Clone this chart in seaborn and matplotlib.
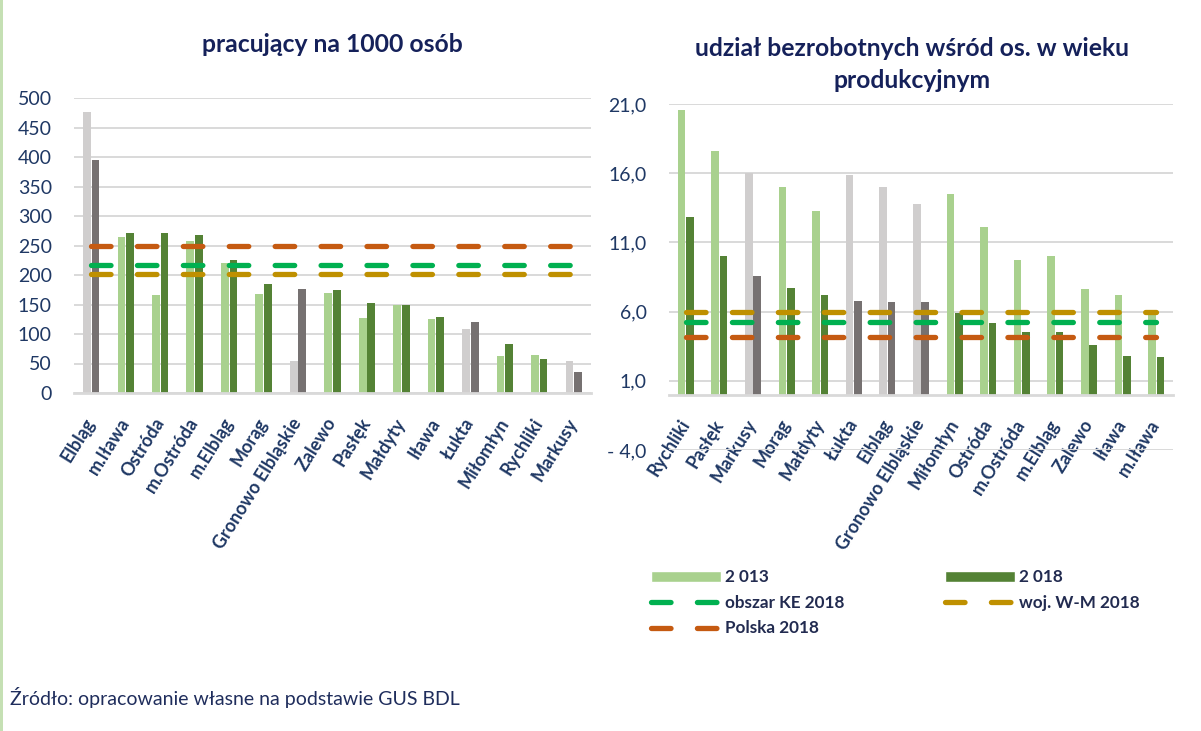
import numpy as np
import pandas as pd
import seaborn as sns
import matplotlib.pyplot as plt
from matplotlib.lines import Line2D
from matplotlib.patches import Patch, Rectangle
from matplotlib.ticker import FuncFormatter, MultipleLocator

# --- dane: pracujacy na 1000 osob ---
gminy_prac = ["Elbląg", "m.Iława", "Ostróda", "m.Ostróda", "m.Elbląg", "Morąg",
              "Gronowo Elbląskie", "Zalewo", "Pasłęk", "Małdyty", "Iława", "Łukta",
              "Miłomłyn", "Rychliki", "Markusy"]
prac_2013 = [477, 264, 166, 257, 220, 168, 55, 170, 127, 149, 125, 109, 62, 64, 55]
prac_2018 = [395, 272, 272, 267, 225, 185, 177, 175, 153, 150, 129, 120, 83, 57, 36]
prac_polska = 250
prac_obszar = 217
prac_woj = 202

# --- dane: udzial bezrobotnych w wieku produkcyjnym ---
gminy_bezr = ["Rychliki", "Pasłęk", "Markusy", "Morąg", "Małdyty", "Łukta", "Elbląg",
              "Gronowo Elbląskie", "Miłomłyn", "Ostróda", "m.Ostróda", "m.Elbląg",
              "Zalewo", "Iława", "m.Iława"]
bezr_2013 = [20.6, 17.6, 16.0, 15.0, 13.3, 15.9, 15.0, 13.8, 14.5, 12.1, 9.7, 10.0, 7.6, 7.2, 5.9]
bezr_2018 = [12.8, 10.0, 8.6, 7.7, 7.2, 6.8, 6.7, 6.7, 5.9, 5.2, 4.5, 4.5, 3.6, 2.8, 2.7]
bezr_woj = 6.0
bezr_obszar = 5.25
bezr_polska = 4.15

# gminy spoza obszaru - slupki szare
szare = ["Elbląg", "Gronowo Elbląskie", "Łukta", "Markusy"]

lata = ["2 013", "2 018"]

# kolory
JASNY = "#A9D18E"
CIEMNY = "#548235"
JASNY_SZARY = "#D0CECE"
CIEMNY_SZARY = "#767171"
C_POLSKA = "#C55A11"
C_OBSZAR = "#00B050"
C_WOJ = "#BF9000"
NAVY = "#1F3864"
SIATKA = "#D9D9D9"

sns.set_theme(style="white")
plt.rcParams["font.family"] = ["Lato", "DejaVu Sans"]

LW = 3.8
DASH = (3.7, 5.0)


def panel(ax, gminy, v2013, v2018, linie):
    n = len(gminy)
    df = pd.DataFrame({
        "gmina": gminy * 2,
        "rok": [lata[0]] * n + [lata[1]] * n,
        "wartosc": v2013 + v2018,
    })
    sns.barplot(data=df, x="gmina", y="wartosc", hue="rok", order=gminy,
                palette=[JASNY, CIEMNY], width=0.5, gap=0.1, errorbar=None,
                saturation=1, legend=False, ax=ax)
    for cont, kol in zip(ax.containers, [JASNY_SZARY, CIEMNY_SZARY]):
        for bar, g in zip(cont, gminy):
            bar.set_linewidth(0)
            if g in szare:
                bar.set_facecolor(kol)
    for val, kol in linie:
        ax.plot([0, n - 1], [val, val], color=kol, lw=LW, dashes=DASH,
                dash_capstyle="round", zorder=5)

    ax.set_xlim(-0.5, n - 0.5)
    ax.set_xlabel("")
    ax.set_ylabel("")
    ax.yaxis.grid(True, color=SIATKA, lw=1.4)
    ax.set_axisbelow(True)
    for s in ["top", "right", "left"]:
        ax.spines[s].set_visible(False)
    ax.spines["bottom"].set_color(SIATKA)
    ax.spines["bottom"].set_linewidth(2)


def opisy(ax):
    ax.tick_params(axis="y", length=0, pad=16, labelsize=14, labelcolor=NAVY)
    ax.tick_params(axis="x", length=0, pad=19, labelsize=13, labelcolor=NAVY)
    for lbl in ax.get_xticklabels():
        lbl.set_rotation(58)
        lbl.set_ha("right")
        lbl.set_va("center")
        lbl.set_rotation_mode("anchor")
        lbl.set_fontweight("bold")


fig = plt.figure(figsize=(12.01, 7.31), dpi=100)
ax1 = fig.add_axes([74 / 1201, 1 - 393 / 731, 517 / 1201, 295 / 731])
ax2 = fig.add_axes([669 / 1201, 1 - 450 / 731, 504 / 1201, 346 / 731])

panel(ax1, gminy_prac, prac_2013, prac_2018,
      [(prac_polska, C_POLSKA), (prac_obszar, C_OBSZAR), (prac_woj, C_WOJ)])
ax1.set_ylim(0, 500)
ax1.yaxis.set_major_locator(MultipleLocator(50))
opisy(ax1)

panel(ax2, gminy_bezr, bezr_2013, bezr_2018,
      [(bezr_woj, C_WOJ), (bezr_obszar, C_OBSZAR), (bezr_polska, C_POLSKA)])
ax2.set_ylim(-4, 21)
ax2.set_yticks([-4, 1, 6, 11, 16, 21])
ax2.yaxis.set_major_formatter(FuncFormatter(
    lambda v, p: ("- " if v < 0 else "") + f"{abs(v):.1f}".replace(".", ",")))
ax2.spines["bottom"].set_position(("data", 0))
opisy(ax2)

# tytuly
fig.text(332 / 1201, 1 - 45 / 731, "pracujący na 1000 osób", ha="center", va="center",
         fontsize=17.8, fontweight="bold", color="#15215A")
fig.text(912 / 1201, 1 - 48 / 731, "udział bezrobotnych wśród os. w wieku", ha="center",
         va="center", fontsize=17.8, fontweight="bold", color="#15215A")
fig.text(912 / 1201, 1 - 80 / 731, "produkcyjnym", ha="center", va="center",
         fontsize=17.8, fontweight="bold", color="#15215A")

# legenda
uchwyty = [
    Patch(facecolor=JASNY, label="2 013"),
    Line2D([], [], color=C_OBSZAR, lw=LW, dashes=DASH, dash_capstyle="round", label="obszar KE 2018"),
    Line2D([], [], color=C_POLSKA, lw=LW, dashes=DASH, dash_capstyle="round", label="Polska 2018"),
    Patch(facecolor=CIEMNY, label="2 018"),
    Line2D([], [], color=C_WOJ, lw=LW, dashes=DASH, dash_capstyle="round", label="woj. W-M 2018"),
]
leg = fig.legend(handles=uchwyty, loc="upper left", bbox_to_anchor=(651 / 1201, 1 - 569.5 / 731),
                 ncol=2, frameon=False, fontsize=12.3, handlelength=4.1, handleheight=0.55,
                 handletextpad=0.25, columnspacing=5.85, labelspacing=0.55,
                 borderpad=0, borderaxespad=0)
for t in leg.get_texts():
    t.set_fontweight("bold")
    t.set_color("#222B50")

# zrodlo
fig.text(10 / 1201, 1 - 697 / 731, "Źródło: opracowanie własne na podstawie GUS BDL",
         ha="left", va="center", fontsize=14, color="#1F2D5C")

# ramka strony z lewej
fig.add_artist(Rectangle((0, 0), 3 / 1201, 1, transform=fig.transFigure,
                         facecolor="#C5E0B4", edgecolor="none"))

fig.savefig("out.png", dpi=100)
